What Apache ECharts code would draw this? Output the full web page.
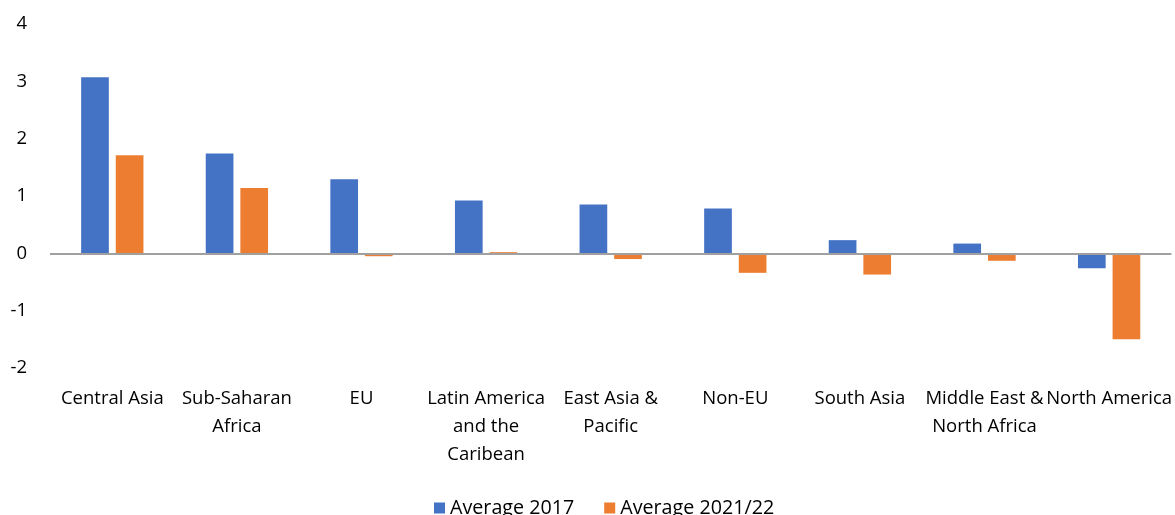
<!DOCTYPE html>
<html><head><meta charset="utf-8">
<script src="https://cdn.jsdelivr.net/npm/echarts@6/dist/echarts.min.js"></script>
<style>html,body{margin:0;padding:0;background:#fff}#c{width:1175px;height:515px}</style>
</head><body><div id="c"></div>
<script>
const categories = ["Central Asia","Sub-Saharan\nAfrica","EU","Latin America\nand the\nCaribean","East Asia &\nPacific","Non-EU","South Asia","Middle East &\nNorth Africa","North America"];
const avg2017 = [3.07, 1.74, 1.29, 0.92, 0.85, 0.78, 0.23, 0.17, -0.26];
const avg2021 = [1.71, 1.14, -0.05, 0.02, -0.10, -0.34, -0.37, -0.13, -1.50];
const yTicks = [-2, -1, 0, 1, 2, 3, 4];

const font = "Open Sans";
const chart = echarts.init(document.getElementById('c'));
chart.setOption({
  animation: false,
  textStyle: {fontFamily: font},
  grid: {left: 50, right: 2, top: 24, bottom: 147},
  legend: {
    top: 493, left: 429, itemWidth: 11, itemHeight: 11, itemGap: 30,
    icon: 'rect',
    textStyle: {fontSize: 19.7, color: '#000', fontFamily: font}
  },
  xAxis: {
    type: 'category', data: categories,
    axisLine: {show: false, onZero: false}, axisTick: {show: false},
    axisLabel: {fontSize: 18.5, color: '#000', margin: 17, lineHeight: 28, interval: 0, fontFamily: font}
  },
  yAxis: {
    type: 'value', min: yTicks[0], max: yTicks[yTicks.length-1], interval: 1,
    splitLine: {show: false},
    axisLine: {show: false}, axisTick: {show: false},
    axisLabel: {fontSize: 18.5, color: '#000', margin: 23, fontFamily: font}
  },
  series: [
    {name: 'Average 2017', type: 'bar', data: avg2017, itemStyle: {color: '#4472C4'},
     barGap: '25%', barCategoryGap: '50%',
     markLine: {silent: true, symbol: 'none', label: {show: false},
       lineStyle: {color: '#a0a0a0', width: 2, type: 'solid'}, data: [{yAxis: 0}]}},
    {name: 'Average 2021/22', type: 'bar', data: avg2021, itemStyle: {color: '#ED7D31'}}
  ]
});
</script></body></html>
